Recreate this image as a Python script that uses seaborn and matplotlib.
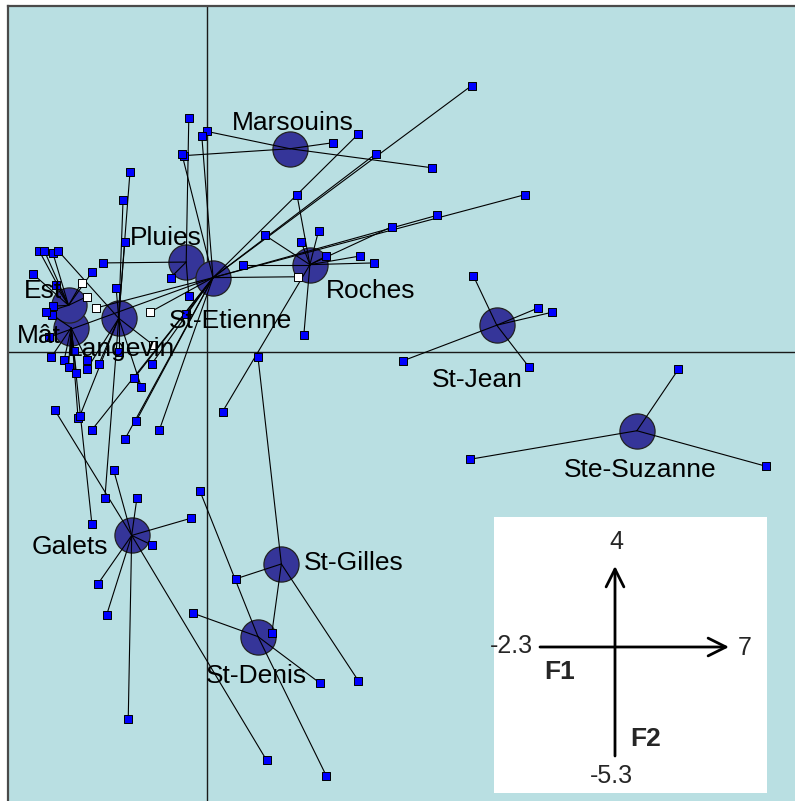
import numpy as np
import pandas as pd
import matplotlib
matplotlib.use('Agg')
import matplotlib.pyplot as plt
import seaborn as sns

# limites du plan factoriel F1 x F2
x_min, x_max = -2.3, 7
y_min, y_max = -5.3, 4

# centres de classes (stations)
classes = ['Marsouins', 'Pluies', 'St-Etienne', 'Roches', 'Mât', 'Est', 'Langevin',
           'St-Jean', 'Ste-Suzanne', 'Galets', 'St-Gilles', 'St-Denis']
class_x = [0.96, -0.24, 0.07, 1.19, -1.57, -1.60, -1.02, 3.35, 4.97, -0.87, 0.86, 0.59]
class_y = [2.35, 1.04, 0.86, 1.01, 0.28, 0.54, 0.39, 0.31, -0.91, -2.12, -2.45, -3.29]
class_n = [4, 4, 15, 11, 9, 8, 11, 5, 3, 9, 4, 4]

# relevés (carrés bleus), dans l'ordre des classes
pt_x = [1.46, 2.60, 0.00, -0.27,
        -0.21, -1.20, -0.42, -0.21,
        -0.06, -0.29, 1.75, 3.06, 1.95, 3.68, 2.66, -1.83, -0.24, -0.64, -0.84, -0.55, -0.95, -0.82, -1.33,
        1.04, 0.67, 1.09, 1.29, 1.38, 1.77, 1.93, 2.14, 1.12, 0.18, 0.42,
        -1.79, -1.80, -1.65, -1.60, -1.51, -1.54, -1.39, -1.33, -1.49,
        -1.94, -1.88, -1.78, -2.01, -1.75, -1.78, -1.33, -1.86,
        -0.89, -0.97, -0.95, -1.05, -1.72, -1.02, -1.25, -1.39, -1.18, -1.47, -0.76,
        3.08, 3.83, 3.99, 2.27, 3.72,
        5.45, 3.04, 6.46,
        -1.76, -1.08, -0.81, -0.18, -0.64, -1.26, -1.16, -0.91, 0.69,
        0.59, 0.34, 0.75, 1.75,
        -0.08, -0.16, 1.31, 1.38]
pt_y = [2.42, 2.13, 2.55, 2.27,
        2.71, 1.03, 0.86, 0.65,
        2.50, 2.29, 2.52, 3.08, 2.29, 1.82, 1.58, 0.17, 0.44, -0.14, -0.30, -0.90, -1.01, -0.80, -0.90,
        1.82, 1.35, 1.27, 1.40, 1.11, 1.11, 1.03, 1.45, 0.20, -0.69, 1.01,
        0.43, -0.06, -0.09, -0.17, -0.24, 0.01, -0.09, -1.99, -0.76,
        1.17, 1.17, 1.14, 0.90, 0.77, 0.53, 0.92, 0.46,
        2.08, 1.76, 1.27, 0.74, 1.17, 0.00, -0.14, -0.20, -1.69, -0.74, -0.40,
        0.88, 0.51, 0.46, -0.10, -0.17,
        -0.20, -1.24, -1.32,
        -0.67, -1.36, -1.69, -1.92, -2.23, -2.68, -3.04, -4.24, -4.72,
        -0.06, -2.62, -3.25, -3.80,
        -1.61, -3.02, -3.83, -4.90]

# relevés en carrés blancs
white_x = [1.05, -0.66, -1.28, -1.45, -1.39, -0.62]
white_y = [0.87, 0.46, 0.51, 0.80, 0.64, 0.08]
white_class = ['St-Etienne', 'St-Etienne', 'St-Etienne', 'Est', 'Est', 'Langevin']

centres = pd.DataFrame({'classe': classes, 'x': class_x, 'y': class_y})
pts = pd.DataFrame({'x': pt_x, 'y': pt_y, 'classe': np.repeat(classes, class_n)})
blancs = pd.DataFrame({'x': white_x, 'y': white_y, 'classe': white_class})

sns.set_theme(style='white')
plt.rcParams['font.family'] = ['Liberation Sans', 'DejaVu Sans']

fig = plt.figure(figsize=(7.95, 8.01), dpi=100)
ax = fig.add_axes([8 / 795, (801 - 810.5) / 801, 804.5 / 795, 804.5 / 801])
ax.set_facecolor('#B9DFE2')
ax.set_xlim(x_min, x_max)
ax.set_ylim(y_min, y_max)
ax.set_xticks([])
ax.set_yticks([])
for s in ['right', 'bottom']:
    ax.spines[s].set_visible(False)
for s in ['left', 'top']:
    ax.spines[s].set_color('#4a4a4a')
    ax.spines[s].set_linewidth(1.6)

ax.axhline(0, color='#1a1a1a', lw=1.0, zorder=1)
ax.axvline(0, color='#1a1a1a', lw=1.0, zorder=1)

# étoiles : relevé -> centre de sa classe
cx = dict(zip(classes, class_x))
cy = dict(zip(classes, class_y))
for df in [pts, blancs]:
    for _, r in df.iterrows():
        ax.plot([r['x'], cx[r['classe']]], [r['y'], cy[r['classe']]],
                color='black', lw=0.8, zorder=3)

sns.scatterplot(data=centres, x='x', y='y', s=640, color='#353599', edgecolor='#222222',
                linewidth=0.9, ax=ax, zorder=2, legend=False)
sns.scatterplot(data=pts, x='x', y='y', marker='s', s=27, color='#0000FF', edgecolor='black',
                linewidth=0.7, ax=ax, zorder=4, legend=False)
sns.scatterplot(data=blancs, x='x', y='y', marker='s', s=27, color='white', edgecolor='black',
                linewidth=0.7, ax=ax, zorder=4, legend=False)
ax.set_xlabel('')
ax.set_ylabel('')

# étiquettes des classes (décalage en pixels)
decal = {'Marsouins': (3, 19), 'Pluies': (-20, 17), 'St-Etienne': (17, -50),
         'Roches': (61, -33), 'Mât': (-32, -15), 'Est': (-26, 7), 'Langevin': (3, -38),
         'St-Jean': (-19, -62), 'Ste-Suzanne': (3, -46), 'Galets': (-62, -19),
         'St-Gilles': (72, -6), 'St-Denis': (-2, -46)}
for c in classes:
    ax.annotate(c, (cx[c], cy[c]), xytext=decal[c], textcoords='offset pixels',
                ha='center', va='baseline', fontsize=19, color='black', zorder=5)

# cartouche des échelles
axi = fig.add_axes([494 / 795, (801 - 793) / 801, 273 / 795, 276 / 801])
axi.set_facecolor('white')
axi.set_xlim(494, 767)
axi.set_ylim(793, 517)
axi.set_xticks([])
axi.set_yticks([])
for s in axi.spines.values():
    s.set_visible(False)
fl = dict(arrowstyle='->', lw=2, color='black', mutation_scale=32, shrinkA=0, shrinkB=0)
axi.annotate('', xy=(729, 647), xytext=(540, 647), arrowprops=fl)
axi.annotate('', xy=(615, 566), xytext=(615, 756), arrowprops=fl)
axi.text(616, 542, f'{y_max:g}', ha='center', va='center', fontsize=18)
axi.text(533, 646, f'{x_min:g}', ha='right', va='center', fontsize=18)
axi.text(745, 648, f'{x_max:g}', ha='center', va='center', fontsize=18)
axi.text(611, 776, f'{y_min:g}', ha='center', va='center', fontsize=18)
axi.text(560, 672, 'F1', ha='center', va='center', fontsize=19, fontweight='bold')
axi.text(646, 739, 'F2', ha='center', va='center', fontsize=19, fontweight='bold')

fig.savefig('out.png', dpi=100)
